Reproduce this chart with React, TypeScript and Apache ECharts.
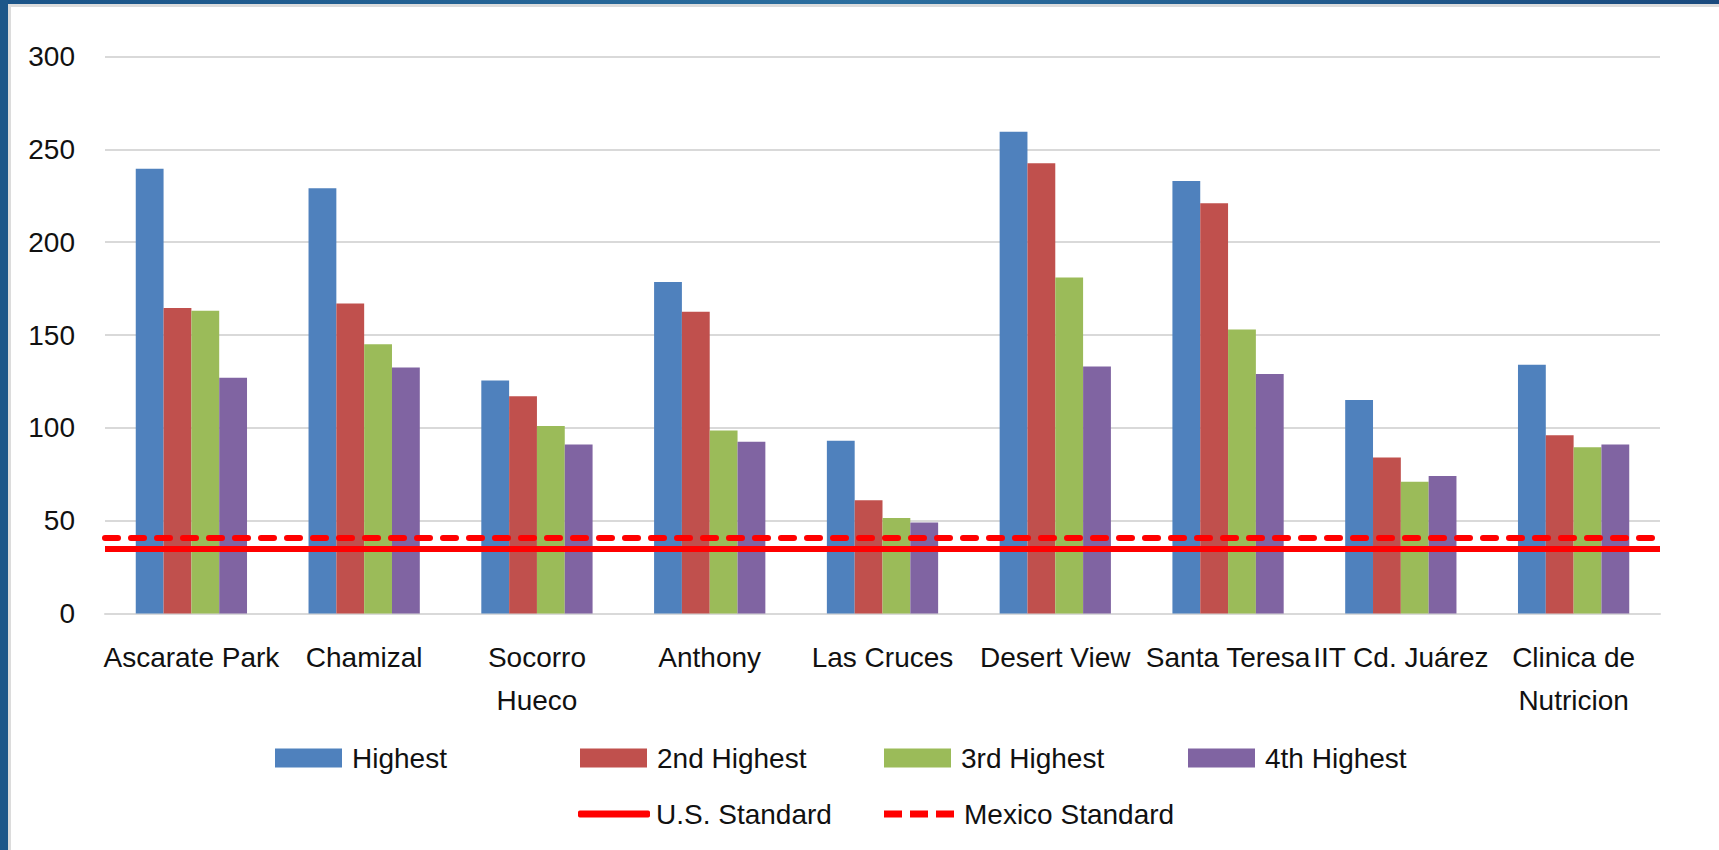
import React, { useEffect, useRef } from "react";
import * as echarts from "echarts";

const categories = [
  "Ascarate Park",
  "Chamizal",
  "Socorro\nHueco",
  "Anthony",
  "Las Cruces",
  "Desert View",
  "Santa Teresa",
  "IIT Cd. Juárez",
  "Clinica de\nNutricion",
];
const highest = [239.5, 229, 125.5, 178.5, 93, 259.5, 233, 115, 134];
const secondHighest = [164.5, 167, 117, 162.5, 61, 242.5, 221, 84, 96];
const thirdHighest = [163, 145, 101, 98.5, 51.5, 181, 153, 71, 89.5];
const fourthHighest = [127, 132.5, 91, 92.5, 49, 133, 129, 74, 91];
const usStandard = 35;
const mexicoStandard = 41;
const yTicks = { min: 0, max: 300, interval: 50 };

const FONT = "'Liberation Sans', Arial, sans-serif";
const barColors = ["#4F81BD", "#C0504D", "#9BBB59", "#8064A2"];
const barNames = ["Highest", "2nd Highest", "3rd Highest", "4th Highest"];
const barData = [highest, secondHighest, thirdHighest, fourthHighest];

export default function App() {
  const ref = useRef<HTMLDivElement>(null);
  useEffect(() => {
    if (!ref.current) return;
    const chart = echarts.init(ref.current, undefined, { renderer: "svg" });

    const legendText = { fontFamily: FONT, fontSize: 28, color: "#111", padding: [0, 0, 0, 5] };
    const barLegendLefts = [275, 580, 884, 1188];
    const legends: any[] = barNames.map((n, i) => ({
      data: [{ name: n, icon: "rect" }],
      left: barLegendLefts[i],
      top: 744,
      padding: 0,
      itemWidth: 67,
      itemHeight: 19,
      textStyle: legendText,
      selectedMode: false,
    }));
    legends.push({
      data: [{ name: "U.S. Standard", icon: "roundRect" }],
      left: 578,
      top: 800,
      padding: 0,
      itemWidth: 72,
      itemHeight: 7,
      textStyle: { ...legendText, padding: [0, 0, 0, 1] },
      selectedMode: false,
    });
    legends.push({
      data: [
        {
          name: "Mexico Standard",
          icon: "path://M0,0h18v7h-18z M26,0h18v7h-18z M52,0h18v7h-18z",
        },
      ],
      left: 884,
      top: 800,
      padding: 0,
      itemWidth: 70,
      itemHeight: 7,
      textStyle: legendText,
      selectedMode: false,
    });

    const series: any[] = barNames.map((n, i) => ({
      type: "bar",
      name: n,
      data: barData[i],
      itemStyle: { color: barColors[i] },
      barGap: "0%",
      barCategoryGap: "35.6%",
    }));
    series.push({
      type: "line",
      name: "U.S. Standard",
      data: [],
      symbol: "none",
      itemStyle: { color: "#FF0000" },
      lineStyle: { color: "#FF0000", width: 6 },
      markLine: {
        silent: true,
        symbol: "none",
        label: { show: false },
        lineStyle: { color: "#FF0000", width: 6, type: "solid" },
        data: [{ yAxis: usStandard }],
        z: 10,
      },
    });
    series.push({
      type: "line",
      name: "Mexico Standard",
      data: [],
      symbol: "none",
      itemStyle: { color: "#FF0000" },
      lineStyle: { color: "#FF0000", width: 6, type: "dashed" },
      markLine: {
        silent: true,
        symbol: "none",
        label: { show: false },
        lineStyle: {
          color: "#FF0000",
          width: 6,
          type: [13, 13],
          cap: "round",
        },
        data: [{ yAxis: mexicoStandard }],
        z: 10,
      },
    });

    chart.setOption({
      animation: false,
      backgroundColor: "#ffffff",
      textStyle: { fontFamily: FONT },
      grid: { left: 105, right: 59, top: 56.5, bottom: 236.5, containLabel: false },
      legend: legends,
      xAxis: {
        type: "category",
        data: categories,
        axisLine: { show: true, lineStyle: { color: "#d9d9d9", width: 2 } },
        axisTick: { show: false },
        axisLabel: {
          interval: 0,
          fontFamily: FONT,
          fontSize: 28,
          lineHeight: 43,
          color: "#111",
          margin: 22,
        },
      },
      yAxis: {
        type: "value",
        min: yTicks.min,
        max: yTicks.max,
        interval: yTicks.interval,
        axisLine: { show: false },
        axisTick: { show: false },
        splitLine: { lineStyle: { color: "#d9d9d9", width: 2 } },
        axisLabel: { fontFamily: FONT, fontSize: 28, color: "#111", margin: 30 },
      },
      graphic: [
        {
          type: "rect",
          shape: { x: 0, y: 0, width: 1719, height: 4 },
          style: {
            fill: new echarts.graphic.LinearGradient(0, 0, 1, 0, [
              { offset: 0, color: "#1b5488" },
              { offset: 0.5, color: "#2c6f9f" },
              { offset: 1, color: "#1a4a7e" },
            ]),
          },
          silent: true,
        },
        {
          type: "rect",
          shape: { x: 0, y: 0, width: 8, height: 850 },
          style: { fill: "#1d5789" },
          silent: true,
        },
        {
          type: "rect",
          shape: { x: 8, y: 4, width: 1711, height: 3 },
          style: { fill: "#dcdcdc" },
          silent: true,
        },
        {
          type: "rect",
          shape: { x: 8, y: 4, width: 3, height: 846 },
          style: { fill: "#dcdcdc" },
          silent: true,
        },
      ],
      series,
    });
    return () => chart.dispose();
  }, []);
  return (
    <div
      ref={ref}
      style={{ position: "fixed", left: 0, top: 0, width: 1719, height: 850 }}
    />
  );
}
